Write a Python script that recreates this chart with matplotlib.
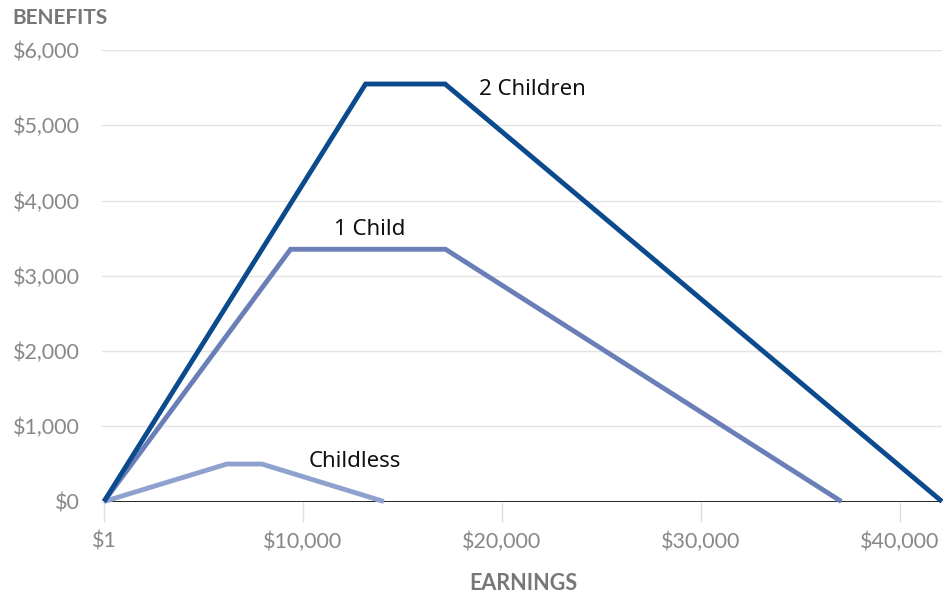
import matplotlib
matplotlib.use("Agg")
import matplotlib.pyplot as plt
from matplotlib.ticker import FixedLocator

# Data (earnings -> benefits)
children2_x = [1, 13150, 17150, 42130]
children2_y = [0, 5548, 5548, 0]
child1_x = [1, 9380, 17170, 37070]
child1_y = [0, 3352, 3352, 0]
childless_x = [1, 6180, 7940, 14070]
childless_y = [0, 498, 498, 0]

x_ticks = [1, 10000, 20000, 30000, 40000]
x_tick_labels = ["$1", "$10,000", "$20,000", "$30,000", "$40,000"]
y_ticks = [0, 1000, 2000, 3000, 4000, 5000, 6000]
y_tick_labels = ["$0", "$1,000", "$2,000", "$3,000", "$4,000", "$5,000", "$6,000"]

labels = ["2 Children", "1 Child", "Childless"]
label_pos = [(18840, 5481), (11560, 3618), (10300, 532)]

c2 = "#0b4a8c"
c1 = "#6a7fb7"
c0 = "#8fa2cf"
gray = "#888888"

W, H = 943, 597
fig = plt.figure(figsize=(W / 100, H / 100), dpi=100)
left, right, top, bottom = 104, 942, 50, 501.5
ax = fig.add_axes([left / W, (H - bottom) / H, (right - left) / W, (bottom - top) / H])
ax.set_xlim(1, 42130)
ax.set_ylim(0, 6000)

for s in ax.spines.values():
    s.set_visible(False)

ax.yaxis.set_major_locator(FixedLocator(y_ticks))
ax.set_yticklabels(y_tick_labels)
ax.xaxis.set_major_locator(FixedLocator(x_ticks))
ax.set_xticklabels(x_tick_labels)

ax.grid(axis="y", color="#e4e4e4", lw=1)
ax.set_axisbelow(True)
ax.tick_params(axis="y", length=2.2, color="#e4e4e4", pad=15, labelsize=15.5, labelcolor=gray)
ax.tick_params(axis="x", length=14.5, width=1, color="#dedede", pad=7, labelsize=15.5, labelcolor=gray)
for lab in ax.get_xticklabels() + ax.get_yticklabels():
    lab.set_fontfamily("Lato")

ax.axhline(0, color="black", lw=1.2, zorder=2)

kw = dict(lw=3.5, solid_capstyle="butt", solid_joinstyle="miter", clip_on=False, zorder=3)
ax.plot(childless_x, childless_y, color=c0, **kw)
ax.plot(child1_x, child1_y, color=c1, **kw)
ax.plot(children2_x, children2_y, color=c2, **kw)

for txt, (x, y) in zip(labels, label_pos):
    ax.text(x, y, txt, fontsize=16, family="Noto Sans", color="#111111", va="center", ha="left")

fig.text(12 / W, 1 - 18 / H, "BENEFITS", fontsize=15, fontweight="bold", family="Lato",
         color="#777777", va="center", ha="left")
ax.set_xlabel("EARNINGS", fontsize=15.5, fontweight="bold", family="Lato", color="#777777", labelpad=15)

fig.savefig("out.png", dpi=100)
